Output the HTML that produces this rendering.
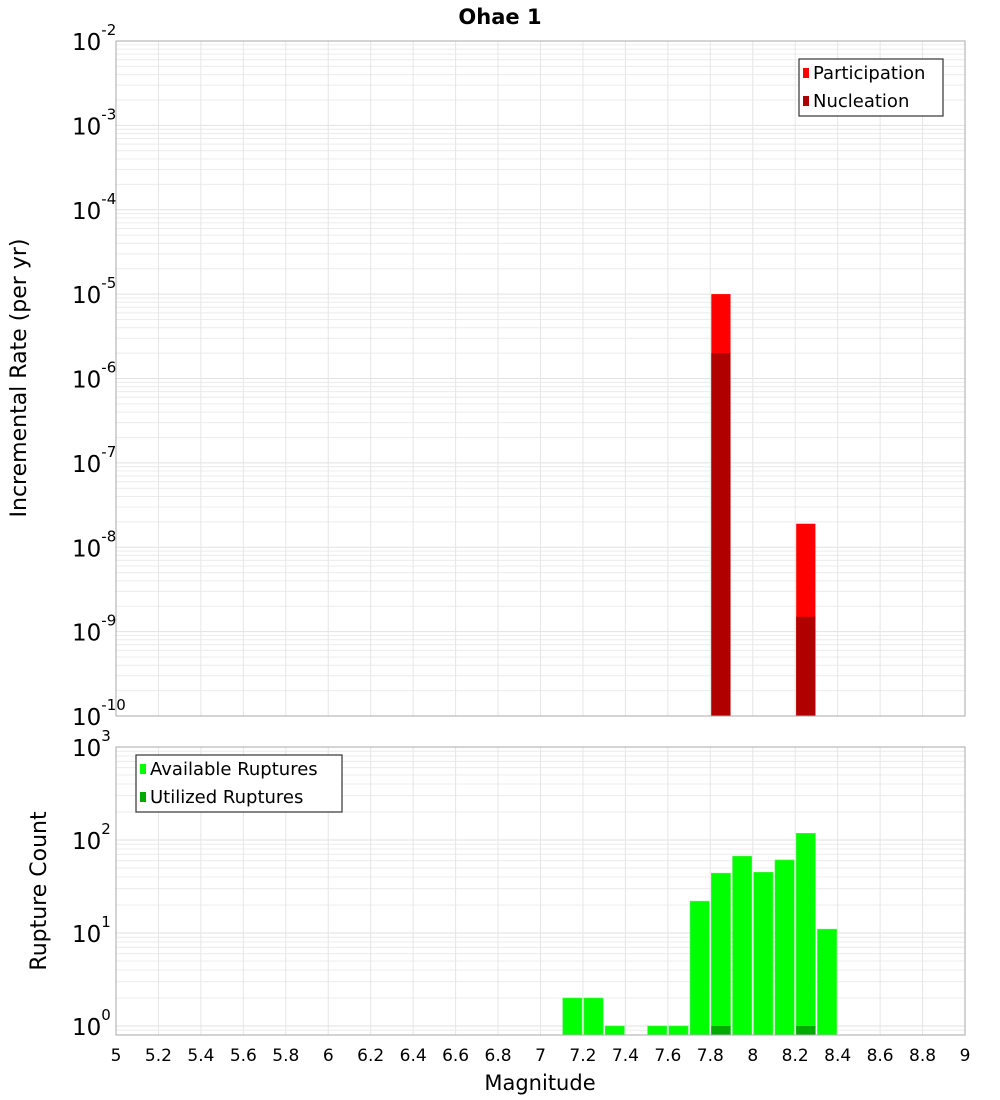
<!DOCTYPE html>
<html><head><meta charset="utf-8"><style>
html,body{margin:0;padding:0;background:#fff;}
svg{display:block;font-family:"DejaVu Sans","Liberation Sans",sans-serif;}
</style></head><body>
<svg id="chart" width="1000" height="1100" viewBox="0 0 1000 1100" xmlns="http://www.w3.org/2000/svg">
<text x="500" y="24" text-anchor="middle" font-size="21" font-weight="bold">Ohae 1</text>
<g id="top"></g>
<g id="bot"></g>
<text transform="translate(26,378) rotate(-90)" text-anchor="middle" font-size="22">Incremental Rate (per yr)</text>
<text transform="translate(46,891) rotate(-90)" text-anchor="middle" font-size="22">Rupture Count</text>
<text x="540" y="1090" text-anchor="middle" font-size="21">Magnitude</text>
</svg>
<script>
// Data
const rateMags = [7.85, 8.25];
const participation = [1.0e-5, 1.9e-8];
const nucleation = [2.0e-6, 1.5e-9];
const countMags = [7.15, 7.25, 7.35, 7.55, 7.65, 7.75, 7.85, 7.95, 8.05, 8.15, 8.25, 8.35];
const available = [2, 2, 1, 1, 1, 22, 44, 67, 45, 61, 118, 11];
const utilizedMags = [7.85, 8.25];
const utilized = [1, 1];
const xTicks = [5,5.2,5.4,5.6,5.8,6,6.2,6.4,6.6,6.8,7,7.2,7.4,7.6,7.8,8,8.2,8.4,8.6,8.8,9];
const topExps = [-10,-9,-8,-7,-6,-5,-4,-3,-2];
const botExps = [0,1,2,3];

const NS = "http://www.w3.org/2000/svg";
const X0 = 116, X1 = 965;
const xs = m => X0 + (m - 5) / 4 * (X1 - X0);
const T = {top:41, bot:716, lo:-10, hi:-2};
const B = {top:747, bot:1035, y0:1026, pxd:93};
const yTop = v => T.bot - (Math.log10(v) - T.lo) / (T.hi - T.lo) * (T.bot - T.top);
const yBot = v => B.y0 - Math.log10(v) * B.pxd;
function mk(parent, tag, attrs) {
  const e = document.createElementNS(NS, tag);
  for (const k in attrs) e.setAttribute(k, attrs[k]);
  parent.appendChild(e); return e;
}
const gT = document.getElementById('top'), gB = document.getElementById('bot');

function grid(g, top, bot, yfn, dLo, dHi) {
  for (let d = dLo; d <= dHi; d++) {
    for (let k = 1; k <= 9; k++) {
      const v = k * Math.pow(10, d);
      const y = yfn(v);
      if (y < top - 0.5 || y > bot + 0.5) continue;
      const l = mk(g, 'line', {x1:X0, x2:X1, y1:y, y2:y, stroke: k===1 ? '#e2e2e2' : '#ececec', 'stroke-width':1});
      
      
    }
  }
  xTicks.forEach(t => {
    const l = mk(g, 'line', {x1:xs(t), x2:xs(t), y1:top, y2:bot, stroke:'#e6e6e6', 'stroke-width':1});
    
    
  });
}
grid(gT, T.top, T.bot, yTop, -10, -2);
grid(gB, B.top, B.bot, yBot, -1, 3);

const bw = (xs(5.1) - xs(5)) - 2;
// Top bars
rateMags.forEach((m, i) => {
  const x = xs(m) - bw / 2;
  let r = mk(gT, 'rect', {x:x, y:yTop(participation[i]), width:bw, height:T.bot - yTop(participation[i]), fill:'#ff0000'});
  
  
  r = mk(gT, 'rect', {x:x, y:yTop(nucleation[i]), width:bw, height:T.bot - yTop(nucleation[i]), fill:'#b00000'});
  
  
});
// Bottom bars
countMags.forEach((m, i) => {
  const x = xs(m) - bw / 2;
  const r = mk(gB, 'rect', {x:x, y:yBot(available[i]), width:bw, height:B.bot - yBot(available[i]), fill:'#00ff00', stroke:'#55ee55', 'stroke-width':0.6});
  
  
});
utilizedMags.forEach((m, i) => {
  const x = xs(m) - bw / 2;
  const r = mk(gB, 'rect', {x:x, y:yBot(utilized[i]), width:bw, height:B.bot - yBot(utilized[i]), fill:'#00aa00'});
  
  
});

// Frames
let f = mk(gT, 'rect', {x:X0, y:T.top, width:X1-X0, height:T.bot-T.top, fill:'none', stroke:'#aaaaaa'});


f = mk(gB, 'rect', {x:X0, y:B.top, width:X1-X0, height:B.bot-B.top, fill:'none', stroke:'#aaaaaa'});



// Y tick labels
function ylab(g, y, e, name) {
  const t = mk(g, 'text', {x:72, y:y + 9, 'font-size':23});
  
  
  t.textContent = '10';
  const s = mk(t, 'tspan', {dy:-15, 'font-size':15});
  s.textContent = String(e);
}
topExps.forEach(e => ylab(gT, yTop(Math.pow(10, e)), e, 'top-y-tick-label'));
botExps.forEach(e => ylab(gB, yBot(Math.pow(10, e)), e, 'bottom-y-tick-label'));

// X tick labels
xTicks.forEach(t => {
  const l = mk(gB, 'text', {x:xs(t), y:1061, 'text-anchor':'middle', 'font-size':17});
  
  
  l.textContent = String(t);
});

// Legends
function legend(g, x, y, w, items, name) {
  const box = mk(g, 'rect', {x:x, y:y, width:w, height:57, fill:'#fff', stroke:'#333', 'stroke-width':1.2});
  
  
  items.forEach((it, i) => {
    const sw = mk(g, 'rect', {x:x + 4, y:y + 9 + i * 28, width:6, height:10, fill:it[1]});
    
    
    const t = mk(g, 'text', {x:x + 14, y:y + 20 + i * 28, 'font-size':18});
    
    
    t.textContent = it[0];
  });
}
legend(gT, 799, 59, 144, [['Participation', '#ff0000'], ['Nucleation', '#b00000']], 'top-legend');
legend(gB, 136, 755, 206, [['Available Ruptures', '#00ff00'], ['Utilized Ruptures', '#00aa00']], 'bottom-legend');
</script>
</body></html>
